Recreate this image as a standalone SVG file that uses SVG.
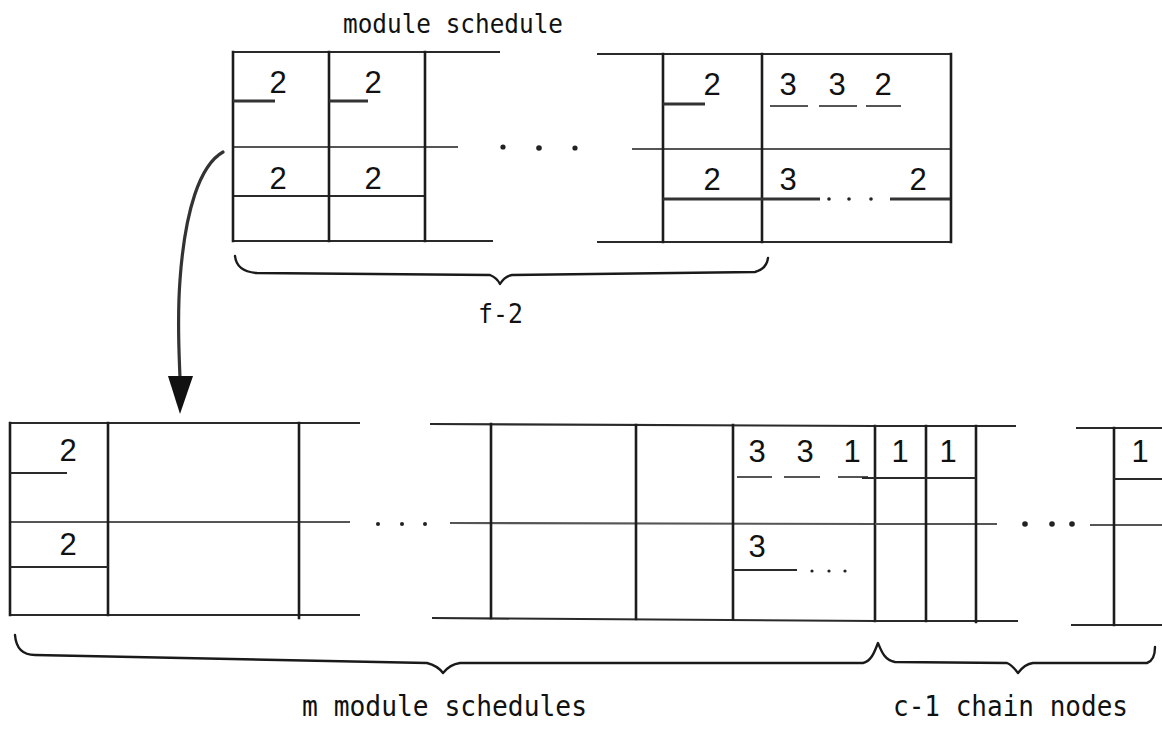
<svg xmlns="http://www.w3.org/2000/svg" width="1162" height="729" viewBox="0 0 1162 729">
<defs>
<style>
.ln{stroke:#1c1c1c;stroke-width:2.6;fill:none;stroke-linecap:square}
.hl{stroke:#2a2a2a;stroke-width:2.2;fill:none}
.mid{stroke:#555;stroke-width:2.2;fill:none}
.ul{stroke:#333;stroke-width:2.8;fill:none}
.ds{stroke:#555;stroke-width:2.2;fill:none}
.dot{fill:#222}
.num{font-family:"Liberation Sans",Arial,sans-serif;font-size:31px;fill:#111;text-anchor:middle}
.lab{font-family:"DejaVu Sans Mono","Liberation Mono",monospace;font-size:29px;fill:#111}
.brace{stroke:#1a1a1a;stroke-width:2.4;fill:none;stroke-linecap:round;stroke-linejoin:round}
</style>
</defs>
<rect width="1162" height="729" fill="#fff"/>

<g id="top-schedule">
<path class="hl" d="M233,52 H500 M597,54 H951 M233,241 H493 M597,242 H951"/>
<path class="mid" d="M233,147 H458 M632,149 H951"/>
<path class="hl" d="M233,196 H425"/>
<path class="ln" d="M233,52 V241 M329,52 V241 M425,52 V241 M663,54 V242 M762,54 V242 M951,54 V242"/>
<path class="ul" d="M233,101 H275 M329,101 H368 M663,104 H705 M663,199 H820 M890,199 H950"/>
<path class="ds" d="M770,106 H808 M819,106 H857 M866,106 H901"/>
<circle class="dot" cx="503" cy="147" r="2.6"/><circle class="dot" cx="539" cy="148" r="2.8"/><circle class="dot" cx="575" cy="148" r="2.6"/>
<circle class="dot" cx="829" cy="199" r="1.8"/><circle class="dot" cx="849" cy="199" r="1.8"/><circle class="dot" cx="871" cy="199" r="1.8"/>
<text class="num" x="278" y="93">2</text>
<text class="num" x="373" y="93">2</text>
<text class="num" x="712" y="95">2</text>
<text class="num" x="788" y="95">3</text>
<text class="num" x="837" y="95">3</text>
<text class="num" x="883" y="95">2</text>
<text class="num" x="278" y="189">2</text>
<text class="num" x="373" y="189">2</text>
<text class="num" x="712" y="190">2</text>
<text class="num" x="788" y="190">3</text>
<text class="num" x="918" y="190">2</text>
</g>

<g id="module-schedules">
<path class="hl" d="M10,423 H360 M430,424 L875,426 M10,615 H360 M432,618 L875,621"/>
<path class="mid" d="M10,522 H350 M450,523 L875,524"/>
<path class="ln" d="M10,423 V615 M108,423 V615 M299,423 V618 M491,424 V618 M636,425 V619 M733,425 V619 M875,426 V621"/>
<path class="hl" d="M10,473 H67 M10,567 H108 M733,570 H797"/>
<path class="ds" d="M737,477 H772 M784,477 H820 M838,477 H868"/>
<circle class="dot" cx="378" cy="524" r="2"/><circle class="dot" cx="402" cy="524" r="2"/><circle class="dot" cx="425" cy="524" r="2"/>
<circle class="dot" cx="812" cy="571" r="1.6"/><circle class="dot" cx="829" cy="571" r="1.6"/><circle class="dot" cx="845" cy="571" r="1.6"/>
<text class="num" x="68" y="461">2</text>
<text class="num" x="68" y="555">2</text>
<text class="num" x="757" y="462">3</text>
<text class="num" x="805" y="462">3</text>
<text class="num" x="852" y="462">1</text>
<text class="num" x="757" y="557">3</text>
</g>

<g id="chain-nodes">
<path class="hl" d="M875,426 H1016 M875,621 H1018 M1076,428 H1162 M1071,625 H1162"/>
<path class="mid" d="M875,524 H997 M1090,525 H1162"/>
<path class="ln" d="M926,426 V621 M976,426 V622 M1114,428 V625"/>
<path class="hl" d="M862,478 H976 M1114,479 H1162"/>
<circle class="dot" cx="1025" cy="524" r="2.8"/><circle class="dot" cx="1052" cy="524" r="2.8"/><circle class="dot" cx="1072" cy="524" r="2.8"/>
<text class="num" x="900" y="462">1</text>
<text class="num" x="948" y="462">1</text>
<text class="num" x="1140" y="462">1</text>
</g>

<g id="braces">
<path class="brace" d="M235,256 C236,266 242,272 257,273 L490,275 C495,277 498,280 500,284 C503,279 506,276 512,275 L755,272 C763,270 767,265 768,258"/>
<path class="brace" d="M15,635 C16,648 22,655 35,655 L427,663 C435,665 440,669 443,673 C447,668 452,664 460,663 L863,663 C872,661 875,650 878,643 C881,650 884,660 895,662 L1007,663 C1012,665 1015,669 1018,673 C1021,669 1025,664 1033,663 L1147,663 C1153,661 1155,655 1155,647"/>
</g>

<g id="labels">
<text class="lab" x="343" y="33" textLength="220" lengthAdjust="spacingAndGlyphs" style="font-size:27px">module schedule</text>
<text class="lab" x="478" y="323" textLength="45" lengthAdjust="spacingAndGlyphs" style="font-size:27px">f-2</text>
<text class="lab" x="302" y="716" textLength="285" lengthAdjust="spacingAndGlyphs">m module schedules</text>
<text class="lab" x="893" y="716" textLength="235" lengthAdjust="spacingAndGlyphs">c-1 chain nodes</text>
</g>

<g id="connectors">
<path d="M223,152 C200,165 185,210 180,280 C177,320 179,350 180,378" stroke="#333" stroke-width="3.2" fill="none" stroke-linecap="round"/>
<polygon points="168,376 193,376 180,414" fill="#111"/>
</g>
</svg>
